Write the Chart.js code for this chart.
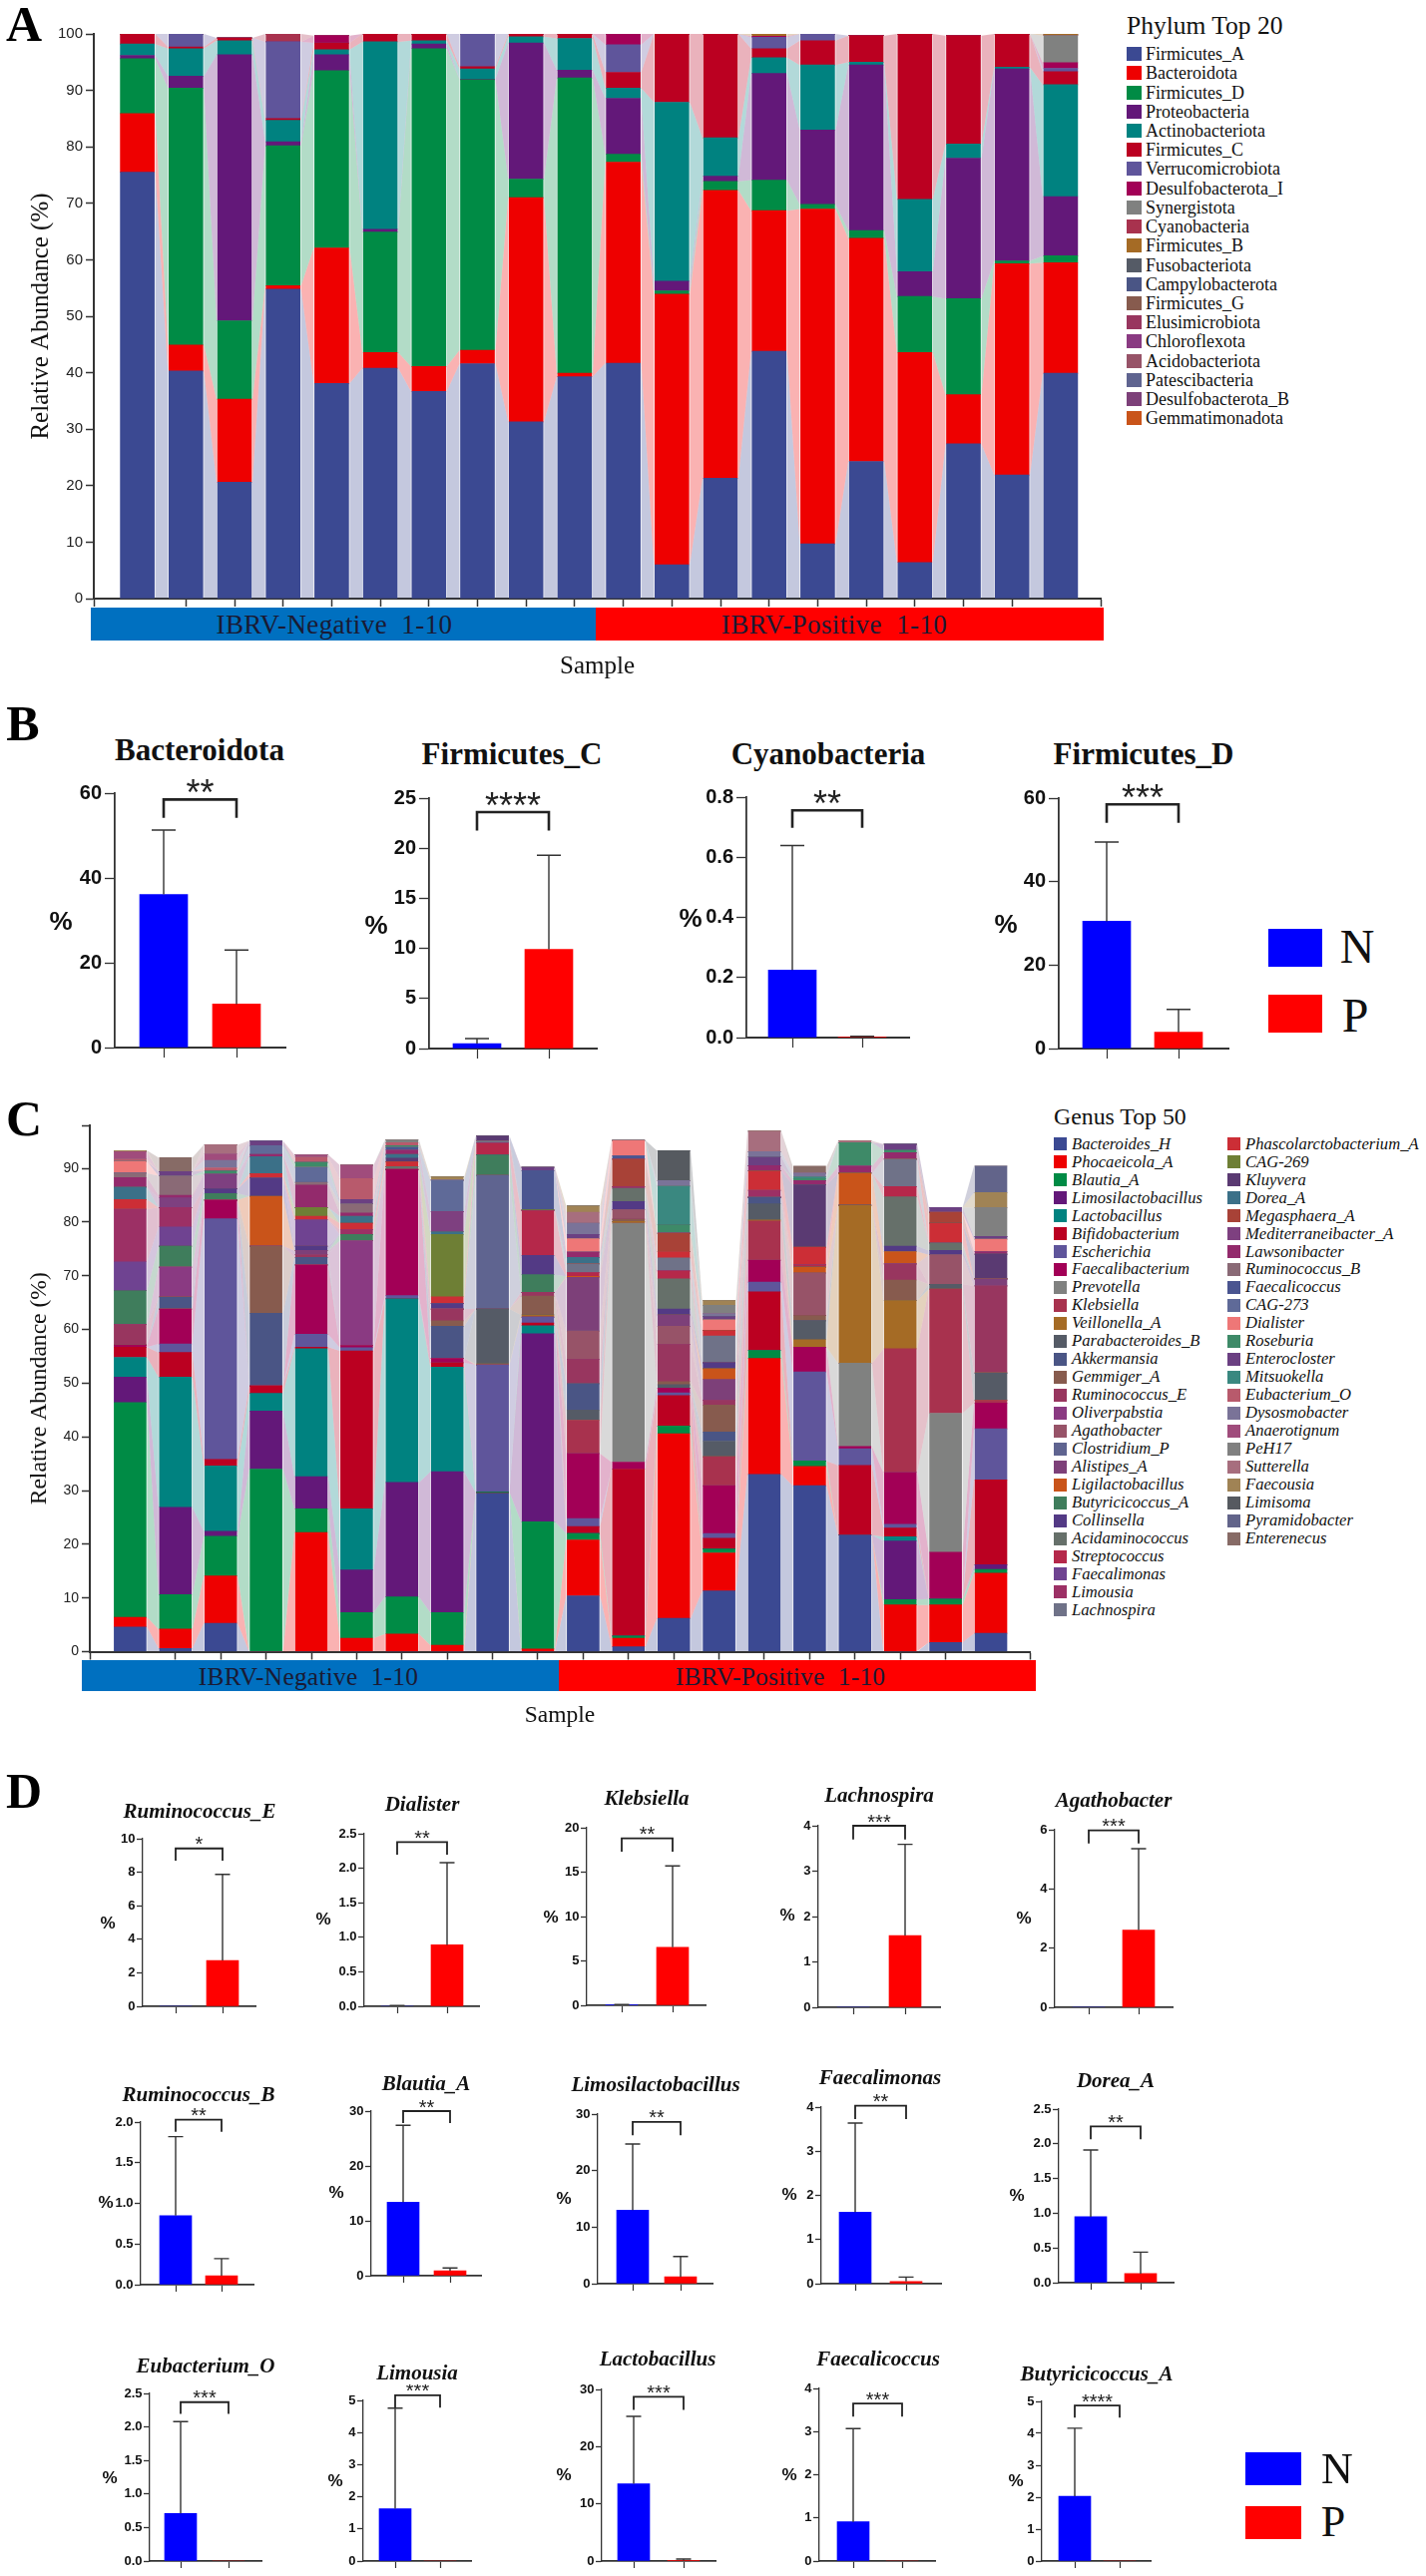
<!DOCTYPE html>
<html>
<head>
<meta charset="utf-8">
<title>Phylum and genus abundance</title>
<script src="https://cdn.jsdelivr.net/npm/chart.js@4/dist/chart.umd.min.js"></script>
<style>
html,body{margin:0;padding:0;background:#fff}
#page{position:relative;width:1429px;height:2582px;overflow:hidden;background:#fff}
canvas{position:absolute}
.t{position:absolute;white-space:pre;line-height:1;transform:translate(-50%,-50%);color:#111}
.l{position:absolute;white-space:pre;line-height:1;transform:translateY(-50%);color:#111;font-family:'Liberation Serif',serif}
.b{position:absolute}
</style>
</head>
<body>
<div id="page"></div>
<script>
// panel A data
var phylumNames=["Firmicutes_A","Bacteroidota","Firmicutes_D","Proteobacteria","Actinobacteriota","Firmicutes_C","Verrucomicrobiota","Desulfobacterota_I","Synergistota","Cyanobacteria","Firmicutes_B","Fusobacteriota","Campylobacterota","Firmicutes_G","Elusimicrobiota","Chloroflexota","Acidobacteriota","Patescibacteria","Desulfobacterota_B","Gemmatimonadota"];
var phylumColors=["#3B4992","#EE0000","#008B45","#631879","#008280","#BB0021","#5F559B","#A20056","#808180","#A8324E","#A56B25","#555B66","#4A5585","#875B4E","#98365F","#8A3A82","#975368","#5F6490","#7D4079","#C9541A"];
var phylumN1=[75.5,10.4,9.7,.6,2,1.8,0,0,0,0];
var phylumN2=[40.3,4.6,45.5,2.1,4.9,.3,2.3,0,0,0];
var phylumN3=[20.6,14.7,13.9,47.1,2.5,.5,0,0,0,0];
var phylumN4=[54.8,.6,24.8,.7,3.8,.3,13.6,0,0,1.4];
var phylumN5=[38.1,24,31.4,2.8,.9,1.2,0,1.3,0,0];
var phylumN6=[40.8,2.8,21.3,.5,33.2,1.4,0,0,0,0];
var phylumN7=[36.7,4.4,56.3,.8,.6,1.2,0,0,0,0];
var phylumN8=[41.6,2.4,47.9,.1,1.8,.4,5.8,0,0,0];
var phylumN9=[31.3,39.7,3.3,24.1,1.1,.5,0,0,0,0];
var phylumN10=[39.3,.6,52.3,1.4,5.6,.8,0,0,0,0];
var phylumP1=[41.7,35.6,1.4,9.9,1.8,2.8,4.9,1.9,0,0];
var phylumP2=[6,47.9,.6,1.7,31.7,12.1,0,0,0,0];
var phylumP3=[21.3,51,1.6,.9,6.8,18.4,0,0,0,0];
var phylumP4=[43.8,24.9,5.4,18.9,2.8,1.6,2,.2,0,0,.4];
var phylumP5=[9.7,59.3,.8,13.2,11.5,4.3,1.2,0,0,0];
var phylumP6=[24.3,39.5,1.4,29.3,.5,4.7,0,0,0,0];
var phylumP7=[6.4,37.2,9.9,4.4,12.8,29.3,0,0,0,0];
var phylumP8=[27.4,8.7,17,24.9,2.5,19.2,0,0,0,0];
var phylumP9=[21.9,37.4,.5,34,.3,5.9,0,0,0,0];
var phylumP10=[39.9,19.6,1.2,10.5,19.8,2.3,.6,1,4.8,0,.3];
var phylumSamples=[phylumN1,phylumN2,phylumN3,phylumN4,phylumN5,phylumN6,phylumN7,phylumN8,phylumN9,phylumN10,phylumP1,phylumP2,phylumP3,phylumP4,phylumP5,phylumP6,phylumP7,phylumP8,phylumP9,phylumP10];

// panel C data
var genusNames=["Bacteroides_H","Phocaeicola_A","Blautia_A","Limosilactobacillus","Lactobacillus","Bifidobacterium","Escherichia","Faecalibacterium","Prevotella","Klebsiella","Veillonella_A","Parabacteroides_B","Akkermansia","Gemmiger_A","Ruminococcus_E","Oliverpabstia","Agathobacter","Clostridium_P","Alistipes_A","Ligilactobacillus","Butyricicoccus_A","Collinsella","Acidaminococcus","Streptococcus","Faecalimonas","Limousia","Lachnospira","Phascolarctobacterium_A","CAG-269","Kluyvera","Dorea_A","Megasphaera_A","Mediterraneibacter_A","Lawsonibacter","Ruminococcus_B","Faecalicoccus","CAG-273","Dialister","Roseburia","Enterocloster","Mitsuokella","Eubacterium_O","Dysosmobacter","Anaerotignum","PeH17","Sutterella","Faecousia","Limisoma","Pyramidobacter","Enterenecus"];
var genusColors=["#3B4992","#EE0000","#008B45","#631879","#008280","#BB0021","#5F559B","#A20056","#808180","#A8324E","#A56B25","#555B66","#4A5585","#875B4E","#98365F","#8A3A82","#975368","#5F6490","#7D4079","#C9541A","#3F7D5C","#533A85","#66706A","#B5284A","#6F4391","#9C3065","#6F7288","#CC2E36","#6E7F35","#5A3A72","#3B7088","#A84237","#7E4080","#932A6C","#8A6A76","#4A5590","#5F6A98","#EE7777","#3E8A68","#6B4082","#3A8880","#B85A6C","#7A7398","#A04C7C","#808080","#A76E7E","#A08355","#565A60","#62648A","#876B66"];
var genusN1=[4.6,1.8,40,4.7,3.7,1.9,0,.4,0,0,0,0,0,0,3.8,0,0,0,0,0,6.3,0,0,0,5.4,9.8,0,1.8,0,0,2.3,0,0,1.8,.8,0,0,2.2,0,0,0,.4,0,1.4,0,0,.2,0,0,0];
var genusN2=[.6,3.6,6.4,16.3,24.2,4.6,1.6,6.5,0,0,0,0,2.2,.1,0,5.5,0,0,0,0,3.9,0,0,0,3.6,3.6,0,0,0,0,0,0,1.8,.5,3.6,0,0,0,0,.8,0,0,0,0,0,0,0,0,0,2.6];
var genusN3=[5.3,8.8,7.4,.9,12.2,1.2,44.8,3.5,0,0,0,0,0,0,0,0,0,0,0,0,1.2,.9,0,0,0,0,0,0,0,0,0,0,2.7,0,0,0,0,0,.6,0,0,.6,1.4,1.2,0,1.7,0,0,0,0];
var genusN4=[0,0,34,10.8,3.3,1.4,0,0,0,0,0,0,13.5,12.5,0,0,0,0,0,9.3,0,3.4,0,0,0,0,0,.8,0,0,3.2,0,0,.4,0,0,1.6,0,0,.9,0,0,0,0,0,0,0,0,0,0];
var genusN5=[0,22.2,4.4,6,23.8,.3,2.4,12.9,0,0,0,0,1.4,0,.5,0,0,0,.8,0,0,.8,0,0,4.9,0,0,.7,1.6,0,0,0,0,4.2,.5,0,2.8,0,.9,0,0,1,0,.4,0,0,0,0,0,0];
var genusN6=[0,2.5,4.8,7.9,11.4,29.4,.6,.4,0,0,0,0,0,0,0,19.5,0,0,0,0,1.2,0,0,0,0,.9,0,1.2,0,0,1.3,0,0,.6,1.7,0,0,0,0,.8,0,3.9,0,2.5,0,0,0,0,0,0];
var genusN7=[0,3.3,6.9,21.3,34.2,0,.6,23.5,0,0,0,0,0,0,0,0,0,0,0,0,0,0,.5,0,0,0,0,.9,0,.7,.7,0,0,.8,0,.5,0,0,.3,0,0,.6,0,0,.5,0,0,0,0,0];
var genusN8=[0,1.2,6.1,26.2,19.5,.8,0,.8,0,0,0,0,6,1,2.2,0,0,0,0,0,0,1,0,0,0,0,0,1.3,11.6,0,.5,0,3.7,0,0,0,5.9,0,0,0,0,0,0,0,0,0,.6,0,0,0];
var genusN9=[29.5,0,.2,0,0,0,23.7,0,0,0,.2,10.2,0,0,0,0,0,24.9,0,0,3.8,0,0,2.2,0,0,.4,0,0,.9,0,0,0,0,0,0,0,0,0,0,0,0,0,0,0,0,0,0,0,0];
var genusN10=[0,.5,23.7,35,1.5,.5,1.1,0,0,0,.4,0,0,3.5,.7,0,0,0,0,0,3.3,3.6,0,8.3,0,0,0,0,.2,0,0,0,0,0,0,7.3,0,0,0,.6,0,0,0,0,0,0,0,0,0,0];
var genusP1=[10.4,10.4,1.2,0,0,1.3,1.5,12.1,0,6.2,0,1.9,4.9,0,4.5,0,5.3,0,10,.2,0,0,0,.7,0,0,1.6,0,0,0,1.2,0,0,1,0,0,0,2.5,0,.8,0,0,2.1,0,0,2,1.2,0,0,0];
var genusP2=[.9,1.6,.4,0,0,31.1,0,1.3,44.5,0,.3,0,0,.4,0,0,1.8,0,0,0,0,1.5,2.5,0,0,.3,0,0,0,0,0,5.1,0,0,0,.6,0,2.9,0,0,0,0,0,0,0,0,0,0,0,0];
var genusP3=[6.2,34.4,1.4,0,0,5.7,.5,.9,0,0,0,.6,0,.6,6.9,0,3.4,0,2.1,0,0,1.1,5.6,1.5,0,0,2.4,1.2,0,0,0,3.4,0,0,0,0,0,0,1.6,0,7.2,0,1,0,0,0,0,5.6,0,0];
var genusP4=[11.3,7.1,.7,0,0,2,.9,8.9,0,5.4,0,2.9,1.7,5,.9,0,0,0,3.9,2,0,1.1,0,0,0,0,5,1,0,0,0,0,0,0,0,0,0,2,0,.6,0,0,.5,0,1.6,0,.9,0,0,0];
var genusP5=[33,21.6,1.5,0,0,10.9,1.8,4.1,0,7.3,.2,3,1.2,0,0,0,0,0,0,0,0,0,0,0,0,1.3,0,3.6,0,0,0,0,0,1,0,0,0,0,0,1.6,0,0,1,0,0,3.8,0,0,0,0];
var genusP6=[30.9,3.6,1,0,0,0,16.6,4.6,0,0,1.4,3.5,0,1,0,0,7.9,0,0,1.1,0,0,0,.4,0,0,0,3.3,0,11.6,0,0,0,.8,0,0,0,0,.4,0,.3,0,.7,0,0,0,0,0,0,1.3];
var genusP7=[21.7,0,0,0,0,13,3.1,.4,15.5,0,29.4,0,0,0,0,0,0,0,0,6,0,0,0,0,0,0,0,0,0,0,0,0,0,1.3,0,0,0,0,4.4,0,0,0,0,0,0,.3,0,0,0,0];
var genusP8=[0,8.7,1,10.9,.8,1.6,.7,9.7,0,23,9,0,0,3.8,3,0,0,0,0,2.3,0,1,9.2,1.9,0,0,5.1,0,0,0,0,0,0,1.2,0,0,0,0,.5,1.1,0,0,0,0,0,0,0,0,0,0];
var genusP9=[1.7,7,1.1,0,0,0,0,8.7,25.9,23.1,0,.9,0,0,0,0,5.5,0,0,0,0,.8,1.4,0,0,0,0,3.7,0,0,0,2,0,0,0,0,0,0,0,.9,0,0,0,0,0,0,0,0,0,0];
var genusP10=[3.4,11.2,.7,.9,0,15.8,9.5,4.8,0,.5,0,5,0,.2,16.1,0,0,0,1.3,0,0,0,0,0,0,0,0,0,0,4.6,0,0,0,.5,0,0,0,2.3,0,.5,0,0,0,0,5.4,0,2.8,0,4.9,0];
var genusSamples=[genusN1,genusN2,genusN3,genusN4,genusN5,genusN6,genusN7,genusN8,genusN9,genusN10,genusP1,genusP2,genusP3,genusP4,genusP5,genusP6,genusP7,genusP8,genusP9,genusP10];

// panels B and D data, same order in every list
var barTitles=["Bacteroidota","Firmicutes_C","Cyanobacteria","Firmicutes_D","Ruminococcus_E","Dialister","Klebsiella","Lachnospira","Agathobacter","Ruminococcus_B","Blautia_A","Limosilactobacillus","Faecalimonas","Dorea_A","Eubacterium_O","Limousia","Lactobacillus","Faecalicoccus","Butyricicoccus_A"];
var barMeansN=[36.1,.5,.225,30.5,0,0,.05,0,0,.85,13.4,13,1.62,.95,.71,1.63,13.5,.91,2.03];
var barMeansP=[10.25,9.9,.002,3.9,2.74,.89,6.55,1.58,2.61,.11,.9,1.2,.05,.13,0,0,.1,0,0];
var barTopsN=[51.3,1,.639,49.5,0,.01,.08,0,0,1.82,27.4,24.7,3.64,1.91,2.08,4.76,25.3,3.07,4.16];
var barTopsP=[23,19.3,.004,9.4,7.87,2.08,15.7,3.59,5.36,.32,1.4,4.8,.15,.44,0,0,.35,0,0];
var barStars=["**","****","**","***","*","**","**","***","***","**","**","**","**","**","***","***","***","***","****"];
var barYMax=[60,25,.8,60,10,2.5,20,4,6,2,30,30,4,2.5,2.5,5,30,4,5];
var barYStep=[20,5,.2,20,2,.5,5,1,2,.5,10,10,1,.5,.5,1,10,1,1];
var bracketTops=[58.5,23.6,.756,58.5,9.42,2.38,18.8,4,5.98,2.03,30,28.6,4.03,2.25,2.37,5.16,28.7,3.65,4.87];
var bracketLegs=[54.5,21.9,.702,54.4,8.75,2.21,17.4,3.72,5.57,1.89,28,26.4,3.75,2.08,2.21,4.8,26.6,3.37,4.52];

// axisX, axisEnd, yTop, y0, cN, cP, titleX, titleY, pctX, pctY
var barBoxes=[
[115,286,795,1051,164,237,200,752,61,923],
[430,598,800,1052,478,550,513,756,377,927],
[748,911,799,1041,794,864,830,756,692,920],
[1061,1231,800,1052,1109,1181,1146,756,1008,926],
[143,256,1843,2011,176,223,200,1815,108,1928],
[365,480,1838,2011,398,448,423,1808,324,1924],
[588,707,1832,2010,623,674,648,1802,552,1922],
[820,942,1830,2012,855,907,881,1799,789,1920],
[1057,1175,1834,2012,1091,1141,1116,1804,1026,1923],
[141,254,2127,2290,176,222,199,2099,106,2208],
[372,482,2116,2281,404,451,427,2088,337,2198],
[599,714,2119,2289,634,682,657,2089,565,2204],
[823,943,2112,2289,857,908,882,2082,791,2200],
[1061,1176,2114,2288,1093,1143,1118,2085,1019,2201],
[150,262,2399,2567,181,229,206,2371,110,2484],
[364,472,2406,2567,396,441,418,2378,336,2487],
[603,717,2395,2567,635,685,659,2364,565,2481],
[821,937,2394,2567,855,904,880,2364,791,2481],
[1044,1153,2407,2567,1077,1122,1099,2379,1018,2487]
];

var page=document.getElementById("page");
Chart.defaults.animation=false;
Chart.defaults.events=[];
Chart.defaults.font.family="'Liberation Sans',sans-serif";
Chart.defaults.color="#222";

function addText(txt,x,y,css){
  var d=document.createElement("div");
  d.className="t";
  d.textContent=txt;
  d.style.cssText="left:"+x+"px;top:"+y+"px;"+css;
  page.appendChild(d);
}
function addLeft(txt,x,y,css){
  var d=document.createElement("div");
  d.className="l";
  d.textContent=txt;
  d.style.cssText="left:"+x+"px;top:"+y+"px;"+css;
  page.appendChild(d);
}
function addBox(x,y,w,h,color){
  var d=document.createElement("div");
  d.className="b";
  d.style.cssText="left:"+x+"px;top:"+y+"px;width:"+w+"px;height:"+h+"px;background:"+color;
  page.appendChild(d);
}
function addCanvas(x,y,w,h){
  var c=document.createElement("canvas");
  c.width=w;c.height=h;
  c.style.left=x+"px";c.style.top=y+"px";
  c.style.width=w+"px";c.style.height=h+"px";
  page.appendChild(c);
  return c;
}

// pale bands joining each segment to the same segment of the next bar
var ribbons={
  id:"ribbons",
  beforeDatasetsDraw:function(chart){
    var ctx=chart.ctx;
    ctx.save();
    ctx.globalAlpha=0.3;
    chart.data.datasets.forEach(function(ds,di){
      var els=chart.getDatasetMeta(di).data;
      ctx.fillStyle=ds.backgroundColor;
      for(var i=0;i<els.length-1;i++){
        var a=els[i],b=els[i+1];
        if(a.y===a.base && b.y===b.base) continue;
        ctx.beginPath();
        ctx.moveTo(a.x+a.width/2+1,a.y);
        ctx.lineTo(b.x-b.width/2-1,b.y);
        ctx.lineTo(b.x-b.width/2-1,b.base);
        ctx.lineTo(a.x+a.width/2+1,a.base);
        ctx.closePath();
        ctx.fill();
      }
    });
    ctx.restore();
  }
};

function stackChart(o){
  var w=o.axisEnd+7, h=o.sampleY+14;
  var first=o.firstTick, pitch=o.pitch;
  var c=addCanvas(0,o.top,w,h-o.top);
  new Chart(c,{
    type:"bar",
    data:{datasets:o.names.map(function(n,g){
      return {label:n,backgroundColor:o.colors[g],borderWidth:0,
        data:o.samples.map(function(s,i){return {x:i,y:s[g]||0};})};
    })},
    options:{
      responsive:false,
      layout:{padding:{top:o.y100-o.top,right:7}},
      plugins:{legend:{display:false},tooltip:{enabled:false}},
      scales:{
        x:{type:"linear",stacked:true,offset:false,
          min:(o.axisX-first)/pitch,max:(o.axisEnd-first)/pitch,
          grid:{offset:false,drawOnChartArea:false,tickLength:8,tickColor:"#333",tickWidth:1.5},
          border:{color:"#333",width:2},
          ticks:{display:false,stepSize:1,autoSkip:false},
          title:{display:true,text:"Sample",font:{family:"'Liberation Serif',serif",size:o.sampleSize},color:"#111",padding:0},
          afterFit:function(s){s.height=h-o.y0;}
        },
        y:{stacked:true,min:0,max:o.yMax,
          grid:{drawOnChartArea:false,tickLength:8,tickColor:"#333",tickWidth:1.5},
          border:{color:"#333",width:2},
          ticks:{stepSize:10,padding:3,font:{size:o.tickSize},color:"#222",
            callback:function(v){return v%10===0?v:"";}},
          title:{display:true,text:"Relative Abundance (%)",color:"#111",padding:{top:o.titlePad,bottom:0},
            font:{family:"'Liberation Serif',serif",size:o.titleSize}},
          afterFit:function(s){s.width=o.axisX;}
        }
      },
      datasets:{bar:{barThickness:o.barW}}
    },
    plugins:[ribbons]
  });
}

// error bars and significance bracket
var sigMarks={
  id:"sigMarks",
  afterDatasetsDraw:function(chart,args,p){
    var ctx=chart.ctx,x=chart.scales.x,y=chart.scales.y;
    var x0=x.getPixelForValue(0),x1=x.getPixelForValue(1);
    ctx.save();
    ctx.strokeStyle="#333";
    ctx.lineWidth=1.4;
    [0,1].forEach(function(i){
      if(!p.tops[i]) return;
      var xp=x.getPixelForValue(i),yT=y.getPixelForValue(p.tops[i]),yB=y.getPixelForValue(chart.data.datasets[0].data[i].y);
      ctx.beginPath();
      ctx.moveTo(xp,yB);ctx.lineTo(xp,yT);
      ctx.moveTo(xp-p.cap,yT);ctx.lineTo(xp+p.cap,yT);
      ctx.stroke();
    });
    var yTop=y.getPixelForValue(p.bracketTop),yLeg=y.getPixelForValue(p.bracketLeg);
    ctx.strokeStyle="#222";
    ctx.lineWidth=p.bracketWidth;
    ctx.lineCap="square";
    ctx.beginPath();
    ctx.moveTo(x0,yLeg);ctx.lineTo(x0,yTop);ctx.lineTo(x1,yTop);ctx.lineTo(x1,yLeg);
    ctx.stroke();
    ctx.fillStyle="#222";
    ctx.font=p.starSize+"px 'Liberation Sans',sans-serif";
    ctx.textAlign="center";
    ctx.textBaseline="middle";
    ctx.fillText(p.stars,(x0+x1)/2,yTop-p.starGap);
    ctx.restore();
  }
};

function barChart(i){
  var b=barBoxes[i], big=i<4;
  var axisX=b[0],axisEnd=b[1],yTop=b[2],y0=b[3],cN=b[4],cP=b[5];
  var span=cP-cN, leftW=60, pad=16, bottomH=14;
  var c=addCanvas(axisX-leftW,yTop-pad,axisEnd-axisX+leftW+4,y0-yTop+pad+bottomH);
  var step=barYStep[i];
  new Chart(c,{
    type:"bar",
    data:{datasets:[{
      data:[{x:0,y:barMeansN[i]},{x:1,y:barMeansP[i]}],
      backgroundColor:["#0000FF","#FF0000"],
      borderWidth:0,
      barThickness:big?48:32
    }]},
    options:{
      responsive:false,
      layout:{padding:{top:pad,right:4}},
      plugins:{legend:{display:false},tooltip:{enabled:false},
        sigMarks:{tops:[barTopsN[i],barTopsP[i]],bracketTop:bracketTops[i],bracketLeg:bracketLegs[i],stars:barStars[i],
          cap:big?12:7.5,bracketWidth:big?2.6:1.8,starSize:big?36:20,starGap:big?4:3}},
      scales:{
        x:{type:"linear",offset:false,
          min:(axisX-cN)/span,max:1+(axisEnd-cP)/span,
          grid:{offset:false,drawOnChartArea:false,tickLength:big?10:7,tickColor:"#333",tickWidth:1.2},
          border:{color:"#333",width:big?2:1.8},
          ticks:{display:false},
          afterBuildTicks:function(s){s.ticks=[{value:0},{value:1}];},
          afterFit:function(s){s.height=bottomH;}
        },
        y:{min:0,max:barYMax[i],
          grid:{drawOnChartArea:false,tickLength:big?10:6,tickColor:"#333",tickWidth:1.3},
          border:{color:"#333",width:big?1.8:1.3},
          ticks:{stepSize:step,padding:big?3:1.5,color:"#111",font:{size:big?20:13,weight:"bold"},
            callback:function(v){return v.toFixed(step<1?1:0);}},
          afterFit:function(s){s.width=leftW;}
        }
      }
    },
    plugins:[sigMarks]
  });
  addText(barTitles[i],b[6],b[7],"font:bold "+(big?"":"italic ")+(big?31:21)+"px 'Liberation Serif',serif;");
  addText("%",b[8],b[9],"font:bold "+(big?26:17)+"px 'Liberation Sans',sans-serif;");
}

function sampleStrip(y,h,left,split,right,nx,px,ty,size,gap){
  addBox(left,y,split-left,h,"#0070C0");
  addBox(split,y,right-split,h,"#FF0000");
  var css="font:"+size+"px 'Liberation Serif',serif;color:#1a1a33;letter-spacing:"+gap+"px;";
  addText("IBRV-Negative  1-10",nx,ty,css);
  addText("IBRV-Positive  1-10",px,ty,css);
}

function groupKey(y1,y2,x,w,h,tx1,ty1,tx2,ty2,size){
  addBox(x,y1,w,h,"#0000FF");
  addBox(x,y2,w,h,"#FF0000");
  addText("N",tx1,ty1,"font:"+size+"px 'Liberation Serif',serif;");
  addText("P",tx2,ty2,"font:"+size+"px 'Liberation Serif',serif;");
}

// panel A
stackChart({names:phylumNames,colors:phylumColors,samples:phylumSamples,top:0,y100:34,y0:600,yMax:100,
  axisX:94,axisEnd:1103,firstTick:137.6,pitch:48.7,barW:34,sampleY:669,sampleSize:25,tickSize:15,titleSize:25,titlePad:26});
sampleStrip(608.5,33.5,91,597,1106,335,836,626,27,.4);
addLeft("Phylum Top 20",1129,26,"font-size:25.5px;");
phylumNames.forEach(function(n,i){
  var y=54.1+i*19.22;
  addBox(1129,y-7,14.5,14,phylumColors[i]);
  addLeft(n,1148,y,"font-size:18px;");
});

// panel C
stackChart({names:genusNames,colors:genusColors,samples:genusSamples,top:1110,y100:1128,y0:1655.5,yMax:98,
  axisX:90,axisEnd:1032,firstTick:130.4,pitch:45.4,barW:32,sampleY:1720,sampleSize:23.5,tickSize:14,titleSize:23.6,titlePad:26});
sampleStrip(1664,31,82,560,1038,309,782,1680,25.4,.25);
addLeft("Genus Top 50",1056,1120,"font-size:23.8px;");
genusNames.forEach(function(n,i){
  var col=i<27?0:1, row=col?i-27:i, y=1146.7+row*17.97;
  addBox(col?1230:1056,y-6.5,13,13,genusColors[i]);
  addLeft(n,col?1248:1074,y,"font-size:16.6px;font-style:italic;");
});

// panels B and D
barBoxes.forEach(function(b,i){barChart(i);});
groupKey(931,997,1271,54,38,1360,948,1358,1017,48);
groupKey(2458,2512,1248,56,33,1340,2474,1336,2527,44);

// panel letters
var panelLetters=["A","B","C","D"];
var letterSpots=[[24,24],[23,725],[24,1121],[24,1795]];
panelLetters.forEach(function(t,i){
  addText(t,letterSpots[i][0],letterSpots[i][1],"font:bold 50px 'Liberation Serif',serif;color:#000;");
});
</script>
</body>
</html>
